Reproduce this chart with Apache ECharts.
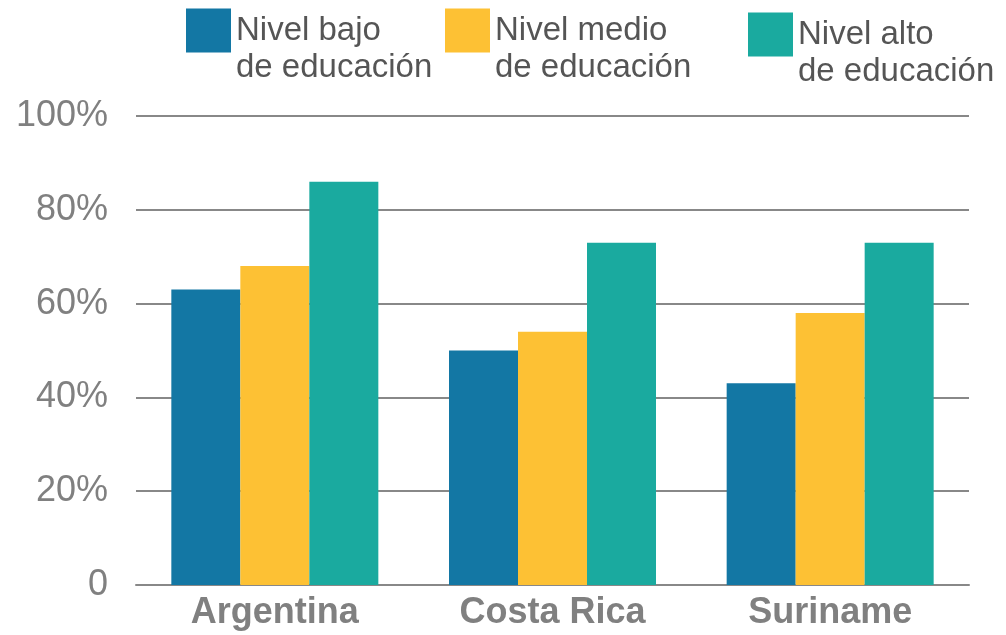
<!DOCTYPE html>
<html>
<head>
<meta charset="utf-8">
<script src="https://cdn.jsdelivr.net/npm/echarts@6/dist/echarts.min.js"></script>
<style>
  html, body { margin: 0; padding: 0; background: #fff; }
  #main { width: 1006px; height: 635px; }
</style>
</head>
<body>
<div id="main"></div>
<script>
var countries = ['Argentina', 'Costa Rica', 'Suriname'];
var seriesNames = ['Nivel bajo\nde educación', 'Nivel medio\nde educación', 'Nivel alto\nde educación'];
var lowEdu = [63, 50, 43];
var midEdu = [68, 54, 58];
var highEdu = [86, 73, 73];
var colors = ['#1377a4', '#fdc134', '#1aaa9f'];

var chartDom = document.getElementById('main');
var myChart = echarts.init(chartDom);

// empty first line so the first text line sits level with the square
function makeLegend(name, left, top){
    return {
        data: [name],
        left: left,
        top: top,
        padding: 0,
        icon: 'rect',
        itemWidth: 45,
        itemHeight: 44,
        itemGap: 0,
        selectedMode: false,
        formatter: function(n){ return ' \n' + n; },
        textStyle: {
            fontFamily: 'Liberation Sans',
            fontSize: 33,
            lineHeight: 37,
            color: '#555555'
        }
    };
}

var option = {
  animation: false,
  color: colors,
  legend: [
    makeLegend(seriesNames[0], 186, -25),
    makeLegend(seriesNames[1], 445, -25),
    makeLegend(seriesNames[2], 748, -21)
  ],
  grid: {
    left: 136,
    right: 37,
    top: 116,
    bottom: 50,
    containLabel: false
  },
  xAxis: {
    type: 'category',
    data: countries,
    axisTick: { show: false },
    axisLine: { lineStyle: { color: '#888888', width: 2 } },
    axisLabel: {
      margin: 10,
      fontFamily: 'Liberation Sans',
      fontSize: 36,
      fontWeight: 'bold',
      color: '#808080'
    }
  },
  yAxis: {
    type: 'value',
    min: 0,
    max: 100,
    interval: 20,
    axisLine: { show: false },
    axisTick: { show: false },
    splitLine: { lineStyle: { color: '#888888', width: 2 } },
    axisLabel: {
      margin: 28,
      fontFamily: 'Liberation Sans',
      fontSize: 36,
      color: '#808080',
      formatter: function(v){ return v === 0 ? '0' : v + '%'; }
    }
  },
  series: [
    { name: seriesNames[0], type: 'bar', data: lowEdu, barWidth: 69, barGap: '0%' },
    { name: seriesNames[1], type: 'bar', data: midEdu, barWidth: 69, barGap: '0%' },
    { name: seriesNames[2], type: 'bar', data: highEdu, barWidth: 69, barGap: '0%' }
  ]
};

myChart.setOption(option);
</script>
</body>
</html>
